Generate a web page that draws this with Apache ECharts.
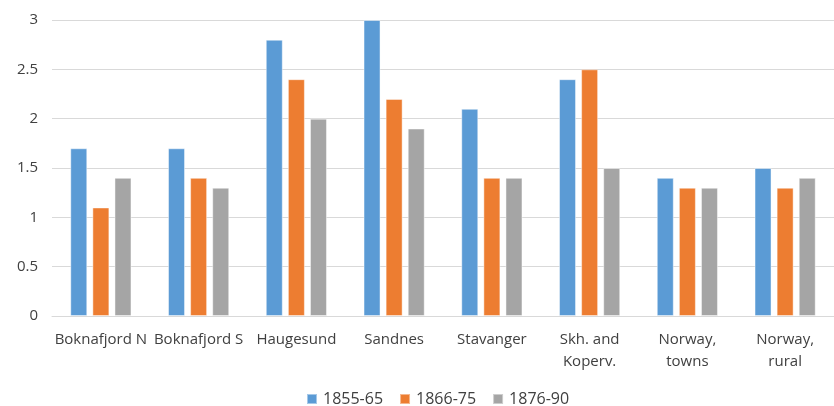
<!DOCTYPE html>
<html>
<head>
<meta charset="utf-8">
<script src="https://cdn.jsdelivr.net/npm/echarts@6/dist/echarts.min.js"></script>
<style>
  html, body { margin: 0; padding: 0; background: #fff; }
  #chart { width: 834px; height: 406px; }
</style>
</head>
<body>
<div id="chart"></div>
<script>
// categories and series values
const categories = ['Boknafjord N', 'Boknafjord S', 'Haugesund', 'Sandnes', 'Stavanger',
  'Skh. and\nKoperv.', 'Norway,\ntowns', 'Norway,\nrural']
const seriesNames = ['1855-65', '1866-75', '1876-90']
const values1855 = [1.7, 1.7, 2.8, 3.0, 2.1, 2.4, 1.4, 1.5]
const values1866 = [1.1, 1.4, 2.4, 2.2, 1.4, 2.5, 1.3, 1.3]
const values1876 = [1.4, 1.3, 2.0, 1.9, 1.4, 1.5, 1.3, 1.4]
const colors = ['#5B9BD5', '#ED7D31', '#A5A5A5']

const font = 'Open Sans'
const chart = echarts.init(document.getElementById('chart'))

const makeSeries = (name, data, i) => ({
  name: name,
  type: 'bar',
  data: data,
  barWidth: 17,
  barGap: '30%',
  itemStyle: {
    color: colors[i],
    borderColor: 'rgba(255,255,255,0.45)',
    borderWidth: 1
  }
})

chart.setOption({
  animation: false,
  textStyle: { fontFamily: font },
  grid: { left: 52, top: 20, width: 792, height: 296 },
  legend: {
    top: 391,
    left: 306,
    padding: 0,
    itemWidth: 10,
    itemHeight: 10,
    itemGap: 16,
    icon: 'rect',
    textStyle: { fontFamily: font, fontSize: 16, lineHeight: 16, color: '#404040', padding: [0, 0, 0, 1] },
    data: seriesNames
  },
  xAxis: {
    type: 'category',
    data: categories,
    axisLine: { lineStyle: { color: '#d9d9d9', width: 1 } },
    axisTick: { show: false },
    axisLabel: {
      interval: 0,
      margin: 13,
      fontFamily: font,
      fontSize: 15,
      color: '#404040',
      lineHeight: 22
    }
  },
  yAxis: {
    type: 'value',
    min: 0,
    max: 3,
    interval: 0.5,
    axisLine: { show: false },
    axisTick: { show: false },
    splitLine: { lineStyle: { color: '#d9d9d9', width: 1 } },
    axisLabel: {
      margin: 14,
      fontFamily: font,
      fontSize: 15,
      color: '#404040'
    }
  },
  series: [
    makeSeries(seriesNames[0], values1855, 0),
    makeSeries(seriesNames[1], values1866, 1),
    makeSeries(seriesNames[2], values1876, 2)
  ]
})
</script>
</body>
</html>
